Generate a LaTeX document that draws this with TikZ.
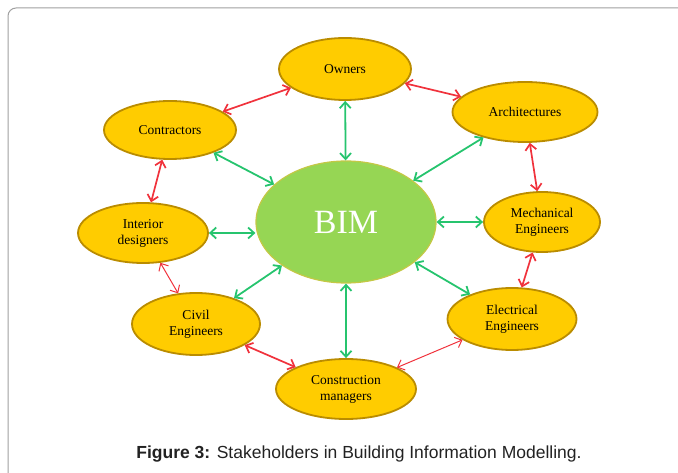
\documentclass[tikz,border=0pt]{standalone}
\usepackage{fontspec}
\setmainfont{Liberation Serif}
\setsansfont{Liberation Sans}
\usetikzlibrary{shapes.geometric, arrows.meta, positioning}
\definecolor{gold}{RGB}{255,204,0}
\definecolor{goldrim}{RGB}{186,140,0}
\definecolor{bimgreen}{RGB}{150,214,84}
\definecolor{bimrim}{RGB}{196,200,70}
\definecolor{linkgreen}{RGB}{38,196,110}
\definecolor{linkred}{RGB}{240,50,60}
\definecolor{framegray}{RGB}{160,160,160}

\begin{document}
\begin{tikzpicture}[x=1pt, y=-1pt, semithick]
	\tikzstyle{holder}=[ellipse, fill=gold, draw=goldrim, line width=1.8pt, inner sep=0pt, minimum width=130pt, minimum height=60pt, align=center, text=black, font=\fontsize{13.5}{16}\selectfont]
	\tikzstyle{hub}=[ellipse, fill=bimgreen, draw=bimrim, line width=1.2pt, minimum width=180pt, minimum height=122pt, text=white, font=\fontsize{34}{40}\selectfont]
	\tikzstyle{greenlink}=[{Straight Barb[length=6pt,width=11pt]}-{Straight Barb[length=6pt,width=11pt]}, draw=linkgreen, line width=1.8pt]
	\tikzstyle{redlink}=[{Straight Barb[length=6pt,width=11pt]}-{Straight Barb[length=6pt,width=11pt]}, draw=linkred, line width=1.7pt]
	\tikzstyle{thinred}=[redlink, line width=1pt]
	\useasboundingbox (0,0) rectangle (678,473);
	% frame
	\draw[framegray, line width=1pt, rounded corners=8pt] (8,474) -- (8,8) -- (679,8);
	% stakeholders
	\node[hub]                                            (bim)   at (346,222) {BIM};
	\node[holder, minimum width=132pt, minimum height=62pt] (own)   at (345,69)  {Owners};
	\node[holder, minimum width=145pt]                    (arch)  at (525,112) {Architectures};
	\node[holder, minimum width=116pt]                    (mech)  at (542,222) {Mechanical\\Engineers};
	\node[holder, minimum width=129pt, minimum height=62pt] (elec)  at (512,319) {Electrical\\Engineers};
	\node[holder, minimum width=140pt]                    (cons)  at (346,389) {Construction\\managers};
	\node[holder, minimum width=128pt, minimum height=62pt] (civil) at (196,324) {Civil\\Engineers};
	\node[holder, minimum width=130pt]                    (inter) at (143,233) {Interior\\designers};
	\node[holder, minimum width=132pt, minimum height=58pt] (contr) at (170,130) {Contractors};
	% caption
	\node[font=\sffamily\fontsize{17.5}{20}\selectfont, text={rgb,255:red,34;green,34;blue,34}] (cap) at (359,454) {\textbf{Figure 3:} Stakeholders in Building Information Modelling.};
	% links to BIM
	\path
	(bim) edge[greenlink] (own)
	(bim) edge[greenlink] (arch)
	(bim) edge[greenlink] (mech)
	(bim) edge[greenlink] (elec)
	(bim) edge[greenlink] (cons)
	(bim) edge[greenlink] (civil)
	(bim) edge[greenlink] (contr)
	(inter.east) edge[greenlink] (inter.east -| bim.west);
	% links around the ring
	\path
	(own)   edge[redlink] (arch)
	(arch)  edge[redlink] (mech)
	(mech)  edge[redlink] (elec)
	(elec)  edge[thinred] (cons)
	(cons)  edge[redlink] (civil)
	(civil) edge[thinred] (inter)
	(inter) edge[redlink] (contr)
	(contr) edge[redlink] (own);
\end{tikzpicture}
\end{document}
